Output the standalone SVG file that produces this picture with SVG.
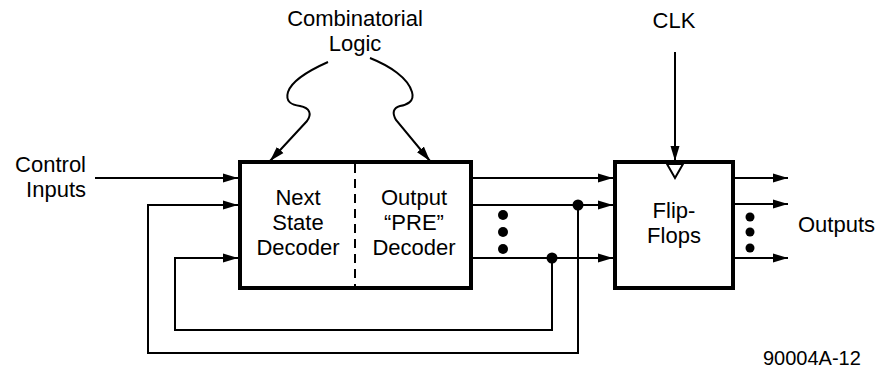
<svg xmlns="http://www.w3.org/2000/svg" width="879" height="371" viewBox="0 0 879 371">
<style>
text{font-family:"Liberation Sans",Arial,sans-serif;font-size:22px;fill:#000}
.c{text-anchor:middle}
.box{fill:#fff;stroke:#000;stroke-width:4}
.w{fill:none;stroke:#000;stroke-width:2}
.a{fill:none;stroke:#000;stroke-width:2;marker-end:url(#ah)}
.dot{fill:#000}
</style>
<defs>
<marker id="ah" markerUnits="userSpaceOnUse" markerWidth="16" markerHeight="10" refX="15" refY="5" orient="auto">
<path d="M0,0.5 L15,5 L0,9.5 z" fill="#000"/>
</marker>
</defs>
<rect width="879" height="371" fill="#fff"/>
<g id="labels">
<text class="c" x="355" y="26">Combinatorial</text>
<text class="c" x="355" y="51">Logic</text>
<text class="c" x="674" y="28">CLK</text>
<text x="86" y="172" text-anchor="end">Control</text>
<text x="86" y="197" text-anchor="end">Inputs</text>
<text x="798" y="232">Outputs</text>
<text x="763" y="365" style="font-size:20px">90004A-12</text>
</g>
<g id="decoder">
<rect class="box" x="240" y="162" width="231" height="126"/>
<line x1="355" y1="164" x2="355" y2="286" stroke="#000" stroke-width="2" stroke-dasharray="9,6"/>
<text class="c" x="298" y="205">Next</text>
<text class="c" x="298" y="230">State</text>
<text class="c" x="298" y="255">Decoder</text>
<text class="c" x="414" y="205">Output</text>
<text class="c" x="414" y="230">“PRE”</text>
<text class="c" x="414" y="255">Decoder</text>
</g>
<g id="flipflops">
<rect class="box" x="615" y="162" width="118" height="126"/>
<path d="M667,164 L683,164 L675,178 z" fill="#fff" stroke="#000" stroke-width="2"/>
<text class="c" x="674" y="218">Flip-</text>
<text class="c" x="674" y="243">Flops</text>
</g>
<g id="connectors">
<path class="a" d="M328,62 C310,70 292,80 288,92 C285,102 292,105 300,106 C310,108 312,114 307,121 L270,161"/>
<path class="a" d="M370,58 C390,66 408,78 412,92 C415,102 406,105 400,106 C393,108 392,113 396,120 L430,161"/>
<path class="a" d="M675,52 L675,161"/>
<path class="a" d="M95,178 L238,178"/>
<path class="a" d="M578,205 L578,353 L148,353 L148,205 L238,205"/>
<path class="a" d="M552,258 L552,330 L175,330 L175,258 L238,258"/>
<path class="a" d="M473,178 L613,178"/>
<path class="a" d="M473,205 L613,205"/>
<path class="a" d="M473,258 L613,258"/>
<circle class="dot" cx="578" cy="205" r="5.5"/>
<circle class="dot" cx="552" cy="258" r="5.5"/>
<circle class="dot" cx="503" cy="215" r="5"/>
<circle class="dot" cx="503" cy="232" r="5"/>
<circle class="dot" cx="503" cy="249" r="5"/>
<path class="a" d="M735,178 L788,178"/>
<path class="a" d="M735,204 L788,204"/>
<path class="a" d="M735,258 L788,258"/>
<circle class="dot" cx="750" cy="217" r="4.5"/>
<circle class="dot" cx="750" cy="232" r="4.5"/>
<circle class="dot" cx="750" cy="248" r="4.5"/>
</g>
</svg>
